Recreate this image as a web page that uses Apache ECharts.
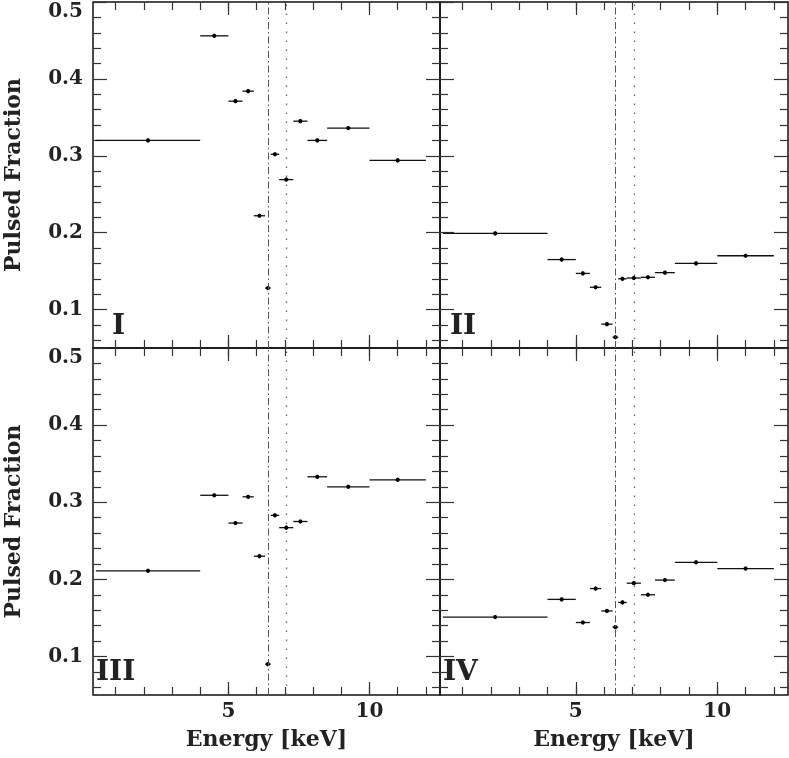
<!DOCTYPE html>
<html><head><meta charset="utf-8">
<script src="https://cdn.jsdelivr.net/npm/echarts@6/dist/echarts.min.js"></script>
<style>html,body{margin:0;padding:0;background:#fff}#c{width:789px;height:758px}</style>
</head><body><div id="c"></div>
<script>
// ---- data ----
const binLo  = [0.3, 4.0, 5.0, 5.5, 5.9, 6.3, 6.5, 6.8, 7.3, 7.8, 8.5, 10.0];
const binHi  = [4.0, 5.0, 5.5, 5.9, 6.3, 6.5, 6.8, 7.3, 7.8, 8.5, 10.0, 12.0];
const energy = [2.15, 4.5, 5.25, 5.7, 6.1, 6.4, 6.65, 7.05, 7.55, 8.15, 9.25, 11.0];
const pfI   = [0.320, 0.456, 0.371, 0.384, 0.222, 0.128, 0.302, 0.269, 0.345, 0.320, 0.336, 0.294];
const pfII  = [0.199, 0.165, 0.147, 0.129, 0.081, 0.064, 0.140, 0.141, 0.142, 0.148, 0.160, 0.170];
const pfIII = [0.211, 0.309, 0.273, 0.307, 0.230, 0.090, 0.283, 0.267, 0.275, 0.333, 0.320, 0.329];
const pfIV  = [0.151, 0.174, 0.144, 0.188, 0.159, 0.138, 0.170, 0.195, 0.180, 0.199, 0.222, 0.214];
const panelNames = ['I', 'II', 'III', 'IV'];
const xMajorTicks = [5, 10];
const xMinorTicks = [1, 2, 3, 4, 5, 6, 7, 8, 9, 10, 11, 12];
const yMajorTicks = [0.1, 0.2, 0.3, 0.4, 0.5];
const yMinorTicks = [0.06, 0.08, 0.12, 0.14, 0.16, 0.18, 0.22, 0.24, 0.26, 0.28, 0.32, 0.34, 0.36, 0.38, 0.42, 0.44, 0.46, 0.48];
const lineFeKa = 6.4;
const lineEdge = 7.05;
const xRange = [0.2, 12.5];
const yRange = [0.05, 0.5];

// ---- layout ----
const panels = [
  {left: 93,  top: 2,   width: 347, height: 346, values: pfI,   xLab: false, yLab: true,  lx: 112, ly: 327},
  {left: 440, top: 2,   width: 348, height: 346, values: pfII,  xLab: false, yLab: false, lx: 450, ly: 327},
  {left: 93,  top: 348, width: 347, height: 347, values: pfIII, xLab: true,  yLab: true,  lx: 96,  ly: 673},
  {left: 440, top: 348, width: 348, height: 347, values: pfIV,  xLab: true,  yLab: false, lx: 443, ly: 673}
];
const FONT = 'DejaVu Serif';
const TXT = '#222';
const TICK = {color: '#333', width: 1.2};

const grids = [], xAxes = [], yAxes = [], series = [], graphics = [];
panels.forEach((p, g) => {
  grids.push({left: p.left, top: p.top, width: p.width, height: p.height, show: true,
    borderColor: '#111', borderWidth: 1.5, backgroundColor: 'transparent', containLabel: false});
  const xBase = {gridIndex: g, type: 'value', min: xRange[0], max: xRange[1],
    axisLine: {show: false}, splitLine: {show: false}};
  [['bottom', true], ['bottom', false], ['top', true], ['top', false]].forEach(([pos, major]) => {
    const ax = Object.assign({}, xBase, {
      position: pos,
      axisTick: {show: true, inside: true, length: major ? 13 : 8, lineStyle: TICK,
                 customValues: major ? xMajorTicks : xMinorTicks},
      axisLabel: {show: false}
    });
    if (pos === 'bottom' && major && p.xLab) {
      ax.axisLabel = {show: true, customValues: xMajorTicks, margin: 7,
        fontFamily: FONT, fontWeight: 'bold', fontSize: 20, color: TXT};
      ax.name = 'Energy [keV]';
      ax.nameLocation = 'middle';
      ax.nameGap = 34;
      ax.nameTextStyle = {fontFamily: FONT, fontWeight: 'bold', fontSize: 22, color: TXT};
    }
    xAxes.push(ax);
  });
  const yBase = {gridIndex: g, type: 'value', min: yRange[0], max: yRange[1],
    axisLine: {show: false}, splitLine: {show: false}};
  [['left', true], ['left', false], ['right', true], ['right', false]].forEach(([pos, major]) => {
    const ax = Object.assign({}, yBase, {
      position: pos,
      axisTick: {show: true, inside: true, length: major ? 14 : 8, lineStyle: TICK,
                 customValues: major ? yMajorTicks : yMinorTicks},
      axisLabel: {show: false}
    });
    if (pos === 'left' && major && p.yLab) {
      ax.axisLabel = {show: true, customValues: yMajorTicks, margin: 10,
        verticalAlignMaxLabel: 'top',
        formatter: v => v.toFixed(1),
        fontFamily: FONT, fontWeight: 'bold', fontSize: 20, color: TXT};
      ax.name = 'Pulsed Fraction';
      ax.nameLocation = 'middle';
      ax.nameGap = 68;
      ax.nameTextStyle = {fontFamily: FONT, fontWeight: 'bold', fontSize: 22, color: TXT};
    }
    yAxes.push(ax);
  });
  const rows = energy.map((e, i) => [e, p.values[i], binLo[i], binHi[i]]);
  series.push({
    type: 'custom', xAxisIndex: g * 4, yAxisIndex: g * 4, data: rows, clip: true,
    encode: {x: 0, y: 1},
    renderItem: (params, api) => {
      const y = api.value(1);
      const a = api.coord([api.value(2), y]);
      const b = api.coord([api.value(3), y]);
      const c = api.coord([api.value(0), y]);
      return {type: 'group', children: [
        {type: 'line', shape: {x1: a[0], y1: a[1], x2: b[0], y2: b[1]}, style: {stroke: '#111', lineWidth: 1.3}},
        {type: 'line', shape: {x1: c[0], y1: c[1] - 2, x2: c[0], y2: c[1] + 2}, style: {stroke: '#000', lineWidth: 1.2}},
        {type: 'circle', shape: {cx: c[0], cy: c[1], r: 2.1}, style: {fill: '#000'}}
      ]};
    },
    markLine: {
      silent: true, symbol: 'none', label: {show: false}, animation: false,
      data: [
        {xAxis: lineFeKa, lineStyle: {type: [7, 3, 1.5, 3], color: '#555', width: 1}},
        {xAxis: lineEdge, lineStyle: {type: [1.5, 7.5], color: '#666', width: 1.3}}
      ]
    }
  });
  graphics.push({type: 'text', x: p.lx, y: p.ly,
    style: {text: panelNames[g], font: 'bold 28px "DejaVu Serif"', fill: TXT,
            textAlign: 'left', textVerticalAlign: 'middle'}});
});

const chart = echarts.init(document.getElementById('c'), null, {renderer: 'canvas'});
chart.setOption({
  animation: false,
  backgroundColor: '#fff',
  grid: grids, xAxis: xAxes, yAxis: yAxes, series: series,
  graphic: graphics
});
</script></body></html>
